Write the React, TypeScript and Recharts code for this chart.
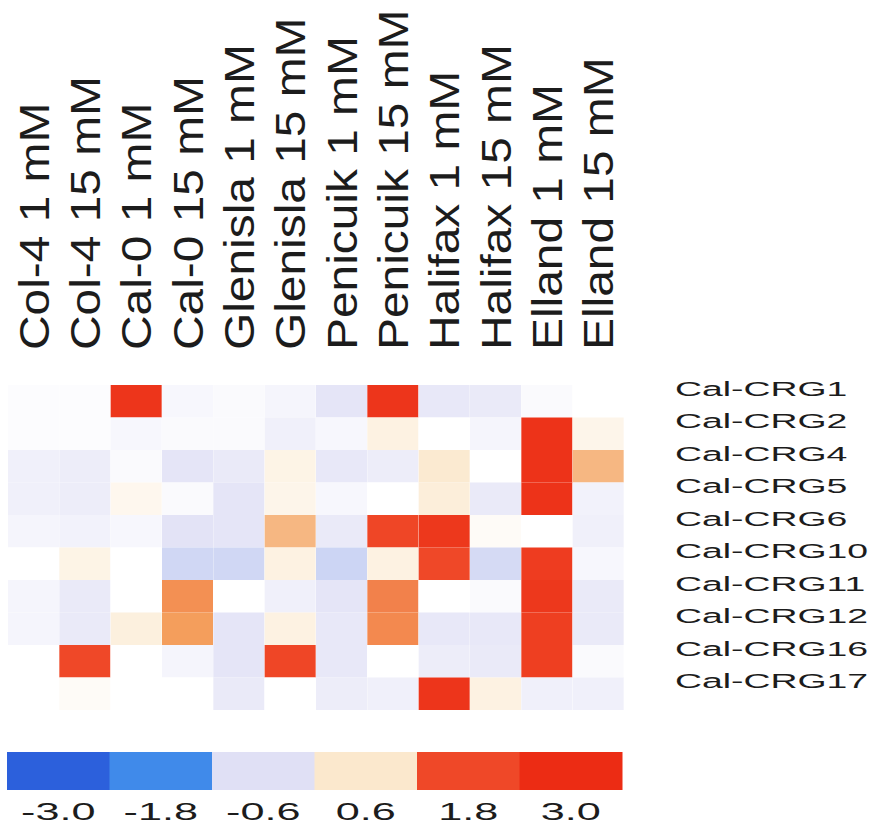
import React from "react";
import { BarChart, Bar, Cell, XAxis, YAxis } from "recharts";

const columns = [
  "Col-4 1 mM", "Col-4 15 mM", "Cal-0 1 mM", "Cal-0 15 mM",
  "Glenisla 1 mM", "Glenisla 15 mM", "Penicuik 1 mM", "Penicuik 15 mM",
  "Halifax 1 mM", "Halifax 15 mM", "Elland 1 mM", "Elland 15 mM",
];

const genes = [
  "Cal-CRG1", "Cal-CRG2", "Cal-CRG4", "Cal-CRG5", "Cal-CRG6",
  "Cal-CRG10", "Cal-CRG11", "Cal-CRG12", "Cal-CRG16", "Cal-CRG17",
];

// log-ratio per gene, one value per column
const crg1 = [-0.05, -0.05, 2.6, -0.15, -0.1, -0.2, -0.5, 2.6, -0.45, -0.4, -0.1, 0];
const crg2 = [-0.05, -0.05, -0.15, -0.1, -0.1, -0.3, -0.15, 0.35, 0, -0.2, 2.7, 0.25];
const crg4 = [-0.3, -0.35, -0.1, -0.5, -0.4, 0.3, -0.45, -0.35, 0.55, 0, 2.7, 1.0];
const crg5 = [-0.3, -0.35, 0.2, -0.1, -0.5, 0.25, -0.15, 0, 0.45, -0.4, 2.7, -0.25];
const crg6 = [-0.2, -0.25, -0.15, -0.55, -0.5, 1.0, -0.4, 1.9, 2.5, 0.1, 0, -0.3];
const crg10 = [0, 0.3, 0, -0.72, -0.72, 0.35, -0.75, 0.35, 1.8, -0.68, 2.3, -0.15];
const crg11 = [-0.2, -0.4, 0, 1.3, 0, -0.3, -0.5, 1.4, 0, -0.1, 2.5, -0.4];
const crg12 = [-0.2, -0.4, 0.4, 1.2, -0.5, 0.35, -0.45, 1.35, -0.45, -0.45, 2.2, -0.4];
const crg16 = [0, 1.8, 0, -0.2, -0.5, 1.9, -0.45, 0, -0.35, -0.4, 2.2, -0.1];
const crg17 = [0, 0.1, 0, 0, -0.4, 0, -0.35, -0.3, 2.6, 0.35, -0.3, -0.3];

const matrix = [crg1, crg2, crg4, crg5, crg6, crg10, crg11, crg12, crg16, crg17];

const legendTicks = [-3.0, -1.8, -0.6, 0.6, 1.8, 3.0];

const FONT = "'Liberation Sans', Arial, sans-serif";

// diverging blue-white-red scale
const stops: [number, number[]][] = [
  [-3.0, [44, 96, 220]],
  [-1.8, [64, 138, 234]],
  [-0.6, [224, 224, 245]],
  [0, [255, 255, 255]],
  [0.6, [251, 232, 205]],
  [1.2, [244, 158, 92]],
  [1.8, [239, 72, 40]],
  [3.0, [236, 44, 20]],
];

function colorFor(v: number) {
  if (v <= stops[0][0]) return `rgb(${stops[0][1].join(",")})`;
  for (let i = 1; i < stops.length; i++) {
    const [v1, c1] = stops[i];
    const [v0, c0] = stops[i - 1];
    if (v <= v1) {
      const t = (v - v0) / (v1 - v0);
      const c = c0.map((a, k) => Math.round(a + (c1[k] - a) * t));
      return `rgb(${c.join(",")})`;
    }
  }
  return `rgb(${stops[stops.length - 1][1].join(",")})`;
}

const heatData = columns.map((name, c) => {
  const row: Record<string, string | number> = { name };
  genes.forEach((_, r) => {
    row[`h${r}`] = 1;
    row[`v${r}`] = matrix[r][c];
  });
  return row;
});

const legendData = legendTicks.map((v) => ({ label: v.toFixed(1), v, one: 1 }));

function ColumnTick({ x, y, payload }: any) {
  return (
    <g transform={`translate(${x},${y}) rotate(-90) scale(1.14,1)`}>
      <text x={0} y={0} dy={15} textAnchor="start" fontSize={42} fill="#1c1c1c" fontFamily={FONT}>
        {payload.value}
      </text>
    </g>
  );
}

function GeneTick({ x, y, payload }: any) {
  const label = genes[Math.floor(payload.value)];
  return (
    <g transform={`translate(${x},${y - 13}) scale(1.78,1)`}>
      <text x={0} y={0} dy={7.5} textAnchor="start" fontSize={21} fill="#1c1c1c" fontFamily={FONT}>
        {label}
      </text>
    </g>
  );
}

function LegendTick({ x, y, payload }: any) {
  return (
    <g transform={`translate(${x},${y}) scale(1.8,1)`}>
      <text x={0} y={0} textAnchor="middle" fontSize={24} fill="#1c1c1c" fontFamily={FONT}>
        {payload.value}
      </text>
    </g>
  );
}

export default function App() {
  return (
    <div style={{ position: "absolute", left: 0, top: 0, width: 878, height: 831, background: "#fff" }}>
      <div style={{ position: "absolute", left: 0, top: 0 }}>
        <BarChart
          width={878}
          height={720}
          data={heatData}
          margin={{ top: 0, right: 0, left: 8, bottom: 10 }}
          barCategoryGap={0}
          barGap={0}
        >
          <XAxis
            dataKey="name"
            orientation="top"
            height={385}
            interval={0}
            axisLine={false}
            tickLine={false}
            tickSize={0}
            tickMargin={35}
            tick={<ColumnTick />}
          />
          <YAxis
            yAxisId={0}
            orientation="right"
            type="number"
            domain={[0, 10]}
            reversed
            width={254}
            ticks={[0.5, 1.5, 2.5, 3.5, 4.5, 5.5, 6.5, 7.5, 8.5, 9.5]}
            interval={0}
            axisLine={false}
            tickLine={false}
            tickSize={0}
            tickMargin={51}
            tick={<GeneTick />}
          />
          {genes.map((g, r) => (
            <Bar key={g} dataKey={`h${r}`} stackId="heat" isAnimationActive={false}>
              {heatData.map((d, c) => (
                <Cell key={c} fill={colorFor(d[`v${r}`] as number)} />
              ))}
            </Bar>
          ))}
        </BarChart>
      </div>
      <div style={{ position: "absolute", left: 0, top: 740 }}>
        <BarChart
          width={878}
          height={91}
          data={legendData}
          margin={{ top: 12, right: 256, left: 7, bottom: 0 }}
          barCategoryGap={0}
          barGap={0}
        >
          <XAxis
            dataKey="label"
            height={41}
            interval={0}
            axisLine={false}
            tickLine={false}
            tickSize={0}
            tickMargin={30}
            tick={<LegendTick />}
          />
          <YAxis hide domain={[0, 1]} />
          <Bar dataKey="one" isAnimationActive={false}>
            {legendData.map((d, i) => (
              <Cell key={i} fill={colorFor(d.v)} />
            ))}
          </Bar>
        </BarChart>
      </div>
    </div>
  );
}
